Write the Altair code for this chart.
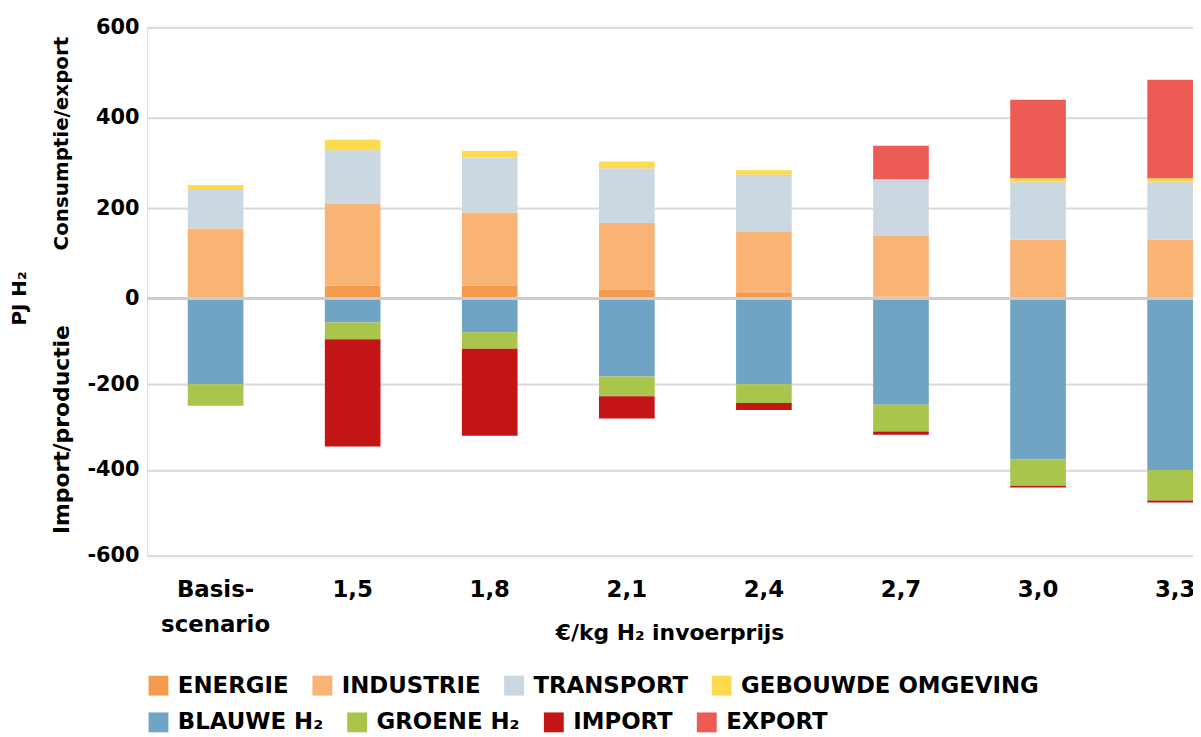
import altair as alt
import pandas as pd

scenarios = ["Basis-scenario", "1,5", "1,8", "2,1", "2,4", "2,7", "3,0", "3,3"]
series = ["ENERGIE", "INDUSTRIE", "TRANSPORT", "GEBOUWDE OMGEVING",
          "BLAUWE H₂", "GROENE H₂", "IMPORT", "EXPORT"]
colors = ["#F39B4F", "#F8B375", "#CCD8E1", "#FEDA4F",
          "#6FA4C4", "#A9C54C", "#C41516", "#EC5C55"]
legend_row1 = series[:4]
legend_row2 = series[4:]
stack_order = ["ENERGIE", "INDUSTRIE", "TRANSPORT", "GEBOUWDE OMGEVING",
               "EXPORT", "BLAUWE H₂", "GROENE H₂", "IMPORT"]

energie = [0, 28, 28, 20, 12, 4, 0, 0]
industrie = [155, 182, 162, 147, 137, 134, 130, 130]
transport = [87, 118, 122, 121, 125, 126, 127, 127]
gebouwde = [9, 23, 15, 15, 10, 0, 9, 9]
export = [0, 0, 0, 0, 0, 74, 174, 218]
blauwe = [-200, -56, -79, -182, -200, -248, -375, -400]
groene = [-50, -39, -38, -46, -44, -62, -62, -71]
importv = [0, -250, -203, -52, -16, -8, -4, -5]

y_ticks = [-600, -400, -200, 0, 200, 400, 600]
x_title = "€/kg H₂ invoerprijs"
y_title_main = "PJ H₂"
y_title_pos = "Consumptie/export"
y_title_neg = "Import/productie"

values = {
    "ENERGIE": energie, "INDUSTRIE": industrie, "TRANSPORT": transport,
    "GEBOUWDE OMGEVING": gebouwde, "EXPORT": export, "BLAUWE H₂": blauwe,
    "GROENE H₂": groene, "IMPORT": importv,
}
rows = []
for s, vals in values.items():
    for sc, v in zip(scenarios, vals):
        if v != 0:
            rows.append({"scenario": sc, "series": s, "value": v,
                         "ord": stack_order.index(s)})
df = pd.DataFrame(rows)
df_leg2 = pd.DataFrame({"reeks": legend_row2})

FONT = "DejaVu Sans"


def legend(y, vals=None):
    kw = dict(title=None, orient="none", legendX=0, legendY=y,
              direction="horizontal",
              symbolType="square", symbolSize=400,
              symbolStrokeWidth=0, symbolOpacity=1,
              labelFont=FONT, labelFontSize=23,
              labelFontWeight="bold", labelColor="black",
              labelOffset=8, columnPadding=22,
              padding=0, labelLimit=0)
    if vals is not None:
        kw["values"] = vals
    return alt.Legend(**kw)


bars = alt.Chart(df).mark_bar(clip=True).encode(
    x=alt.X("scenario:N", sort=scenarios,
            scale=alt.Scale(domain=scenarios, range=[0, 1104],
                            paddingInner=0.594, paddingOuter=0.297),
            axis=alt.Axis(title=x_title, labelAngle=0, domain=False, ticks=False,
                          labelExpr="datum.label == 'Basis-scenario' ? ['Basis-', 'scenario'] : datum.label",
                          labelPadding=23, labelFont=FONT, labelFontSize=23,
                          labelFontWeight="bold", labelColor="black",
                          labelLineHeight=35, labelOverlap=False,
                          titleFont=FONT, titleFontSize=22, titleFontWeight="bold",
                          titleColor="black", titleX=526, titleY=84,
                          titleBaseline="alphabetic", titleAlign="center")),
    y=alt.Y("value:Q", stack="zero",
            scale=alt.Scale(domain=[-600, 0, 600], range=[532, 273, 0], nice=False),
            axis=alt.Axis(values=y_ticks, title=None, domain=False, ticks=False,
                          labelExpr="'' + datum.value",
                          labelFont=FONT, labelFontSize=21, labelFontWeight="bold",
                          labelColor="black", labelPadding=8,
                          gridColor="#d9d9d9", gridWidth=2)),
    color=alt.Color("series:N", scale=alt.Scale(domain=series, range=colors),
                    legend=legend(651, legend_row1)),
    order=alt.Order("ord:Q"),
)

legend2 = alt.Chart(df_leg2).mark_square(opacity=0, size=1).encode(
    fill=alt.Fill("reeks:N", scale=alt.Scale(domain=legend_row2, range=colors[4:]),
                  legend=legend(688)),
)

zero = alt.Chart(pd.DataFrame({"v": [0]})).mark_rule(
    color="#cccccc", strokeWidth=3).encode(y="v:Q")

text_style = dict(angle=270, font=FONT, fontWeight="bold", color="black",
                  align="center", baseline="middle")
t1 = alt.Chart(pd.DataFrame({"t": [y_title_main]})).mark_text(
    fontSize=20, **text_style).encode(x=alt.value(-128), y=alt.value(273), text="t:N")
t2 = alt.Chart(pd.DataFrame({"t": [y_title_pos]})).mark_text(
    fontSize=20, **text_style).encode(x=alt.value(-86), y=alt.value(117), text="t:N")
t3 = alt.Chart(pd.DataFrame({"t": [y_title_neg]})).mark_text(
    fontSize=22, **text_style).encode(x=alt.value(-86), y=alt.value(405), text="t:N")

chart = alt.layer(bars, legend2, zero, t1, t2, t3).properties(
    width=1053, height=532,
    autosize=alt.AutoSizeParams(type="none"),
    padding={"left": 140, "top": 17, "right": 0, "bottom": 178},
).configure_view(stroke=None).configure(background="white")

chart.save("out.html", embed_options={"renderer": "svg", "actions": False})
